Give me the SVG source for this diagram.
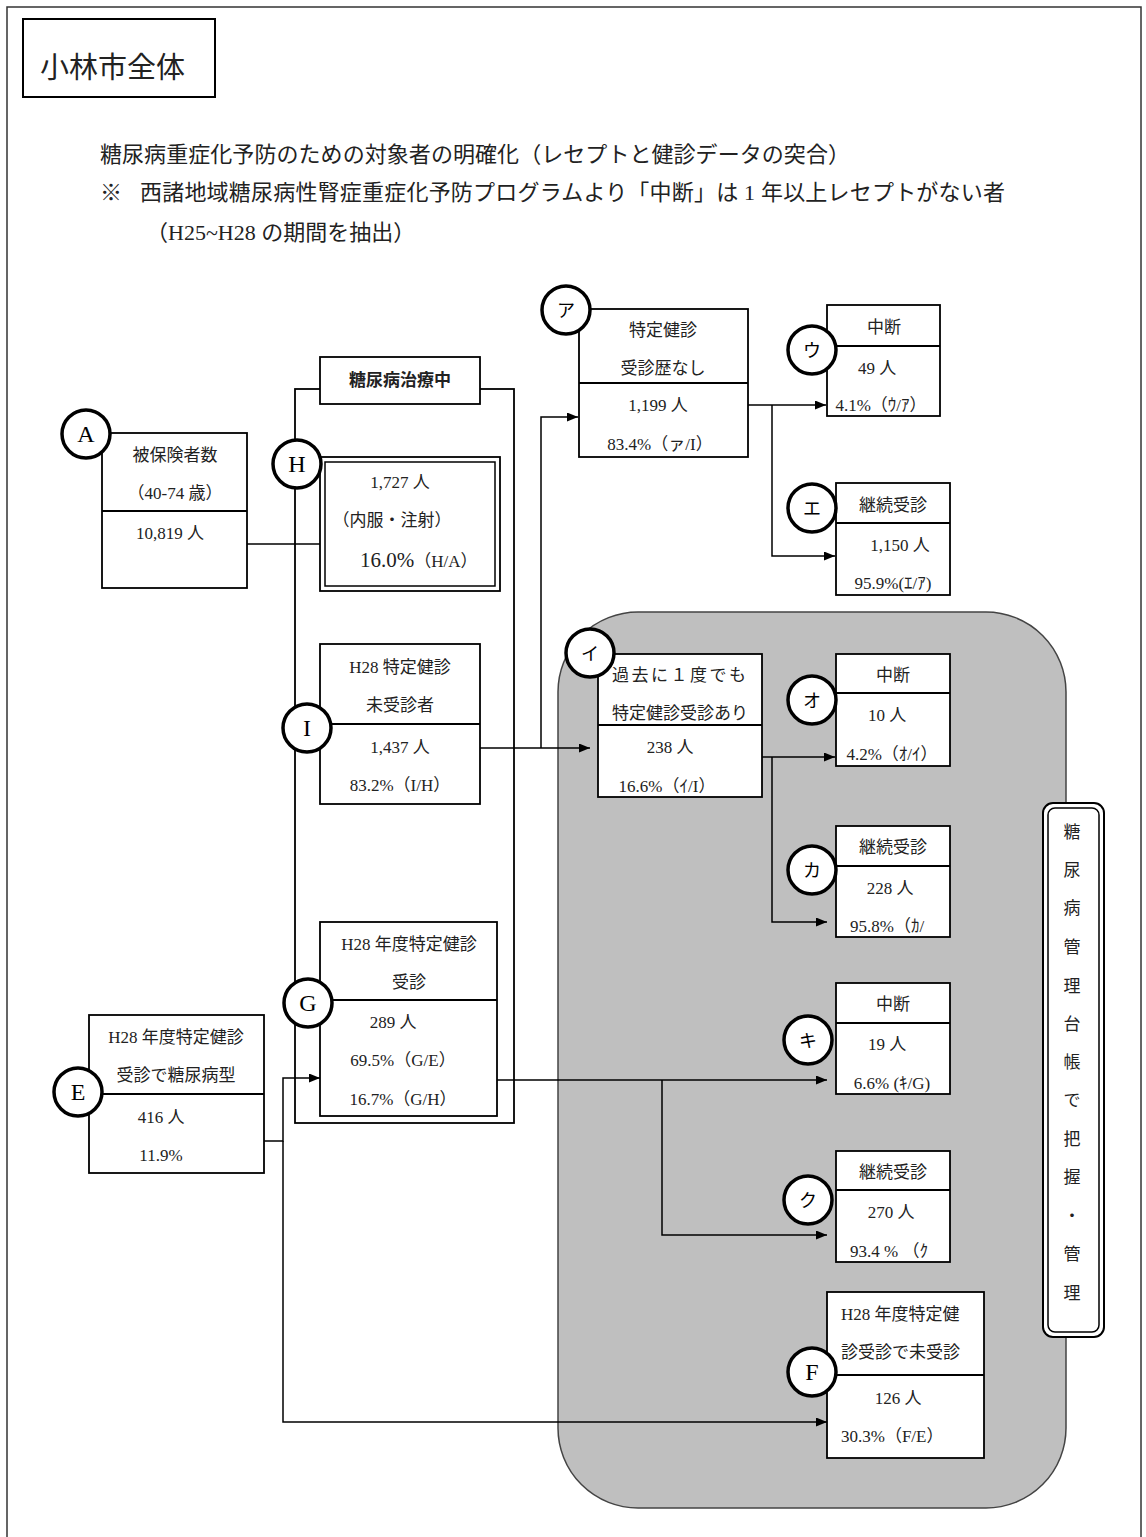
<svg xmlns="http://www.w3.org/2000/svg" width="1146" height="1537" viewBox="0 0 1146 1537">
<defs>
<style>
.box{fill:#fff;stroke:#000;stroke-width:1.8}
.ln{stroke:#000;stroke-width:1.5;fill:none}
.c{fill:#fff;stroke:#000;stroke-width:3.5}
text{font-family:"Liberation Serif","Noto Sans CJK JP",serif;fill:#222}
.t{font-size:17px;text-anchor:middle}
.s{font-size:17px;text-anchor:start}
.cl{font-size:24px;text-anchor:middle;fill:#000}
.ck{font-size:18px;text-anchor:middle;fill:#000}
.h{font-size:22px}
.v{font-size:17px;text-anchor:middle}
</style>
<marker id="arr" markerUnits="userSpaceOnUse" markerWidth="11" markerHeight="9" refX="11" refY="4.5" orient="auto"><path d="M0,0 L11,4.5 L0,9 z" fill="#000"/></marker>
</defs>
<rect x="0" y="0" width="1146" height="1537" fill="#fff"/>
<rect x="7" y="7" width="1134" height="1545" fill="none" stroke="#333" stroke-width="1.5"/>
<g id="title">
<rect x="23" y="19" width="192" height="78" fill="#fff" stroke="#000" stroke-width="2"/>
<text x="40" y="78" style="font-size:29px">小林市全体</text>
</g>
<g id="header">
<text class="h" x="100" y="162" textLength="750" lengthAdjust="spacing">糖尿病重症化予防のための対象者の明確化（レセプトと健診データの突合）</text>
<text class="h" x="100" y="200">※</text>
<text class="h" x="140" y="200" textLength="865" lengthAdjust="spacing">西諸地域糖尿病性腎症重症化予防プログラムより「中断」は 1 年以上レセプトがない者</text>
<text class="h" x="146" y="240">（H25~H28 の期間を抽出）</text>
</g>
<g id="managed-area">
<rect x="558" y="612" width="508" height="896" rx="80" ry="80" fill="#bfbfbf" stroke="#444" stroke-width="1.5"/>
</g>
<g id="treatment-group">
<rect x="295" y="389" width="219" height="734" fill="none" stroke="#000" stroke-width="1.8"/>
<rect class="box" x="320" y="357" width="160" height="47"/>
<text class="t" x="400" y="386" style="font-size:17px;font-weight:bold">糖尿病治療中</text>
</g>
<g id="connectors">
<path class="ln" d="M247,544 H320"/>
<path class="ln" d="M748,405 H826" marker-end="url(#arr)"/>
<path class="ln" d="M772,405 V556 H835" marker-end="url(#arr)"/>
<path class="ln" d="M480,748 H590" marker-end="url(#arr)"/>
<path class="ln" d="M541,748 V417 H578" marker-end="url(#arr)"/>
<path class="ln" d="M762,757 H835" marker-end="url(#arr)"/>
<path class="ln" d="M772,757 V922 H827" marker-end="url(#arr)"/>
<path class="ln" d="M264,1141 H283 V1078 H320" marker-end="url(#arr)"/>
<path class="ln" d="M283,1141 V1422 H827" marker-end="url(#arr)"/>
<path class="ln" d="M497,1080 H827" marker-end="url(#arr)"/>
<path class="ln" d="M662,1080 V1235 H827" marker-end="url(#arr)"/>
</g>
<g id="node-a">
<rect class="box" x="102" y="433" width="145" height="155"/>
<line class="ln" x1="102" y1="511" x2="247" y2="511" style="stroke-width:1.8"/>
<text class="t" x="175" y="461">被保険者数</text>
<text class="t" x="175" y="499">（40-74 歳）</text>
<text class="t" x="170" y="539">10,819 人</text>
<circle class="c" cx="86" cy="434" r="24"/>
<text class="cl" x="86" y="442">A</text>
</g>
<g id="node-h">
<rect class="box" x="320" y="457" width="180" height="134"/>
<rect class="box" x="325" y="462" width="170" height="124" style="stroke-width:1.5"/>
<text class="t" x="400" y="488">1,727 人</text>
<text class="t" x="392" y="526">（内服・注射）</text>
<text x="360" y="567" style="font-size:21px">16.0%<tspan style="font-size:17px">（H/A）</tspan></text>
<circle class="c" cx="297" cy="464" r="24"/>
<text class="cl" x="297" y="472">H</text>
</g>
<g id="node-i">
<rect class="box" x="320" y="644" width="160" height="160"/>
<line class="ln" x1="320" y1="724" x2="480" y2="724" style="stroke-width:1.8"/>
<text class="t" x="400" y="673">H28 特定健診</text>
<text class="t" x="400" y="711">未受診者</text>
<text class="t" x="400" y="753">1,437 人</text>
<text class="t" x="400" y="791">83.2%（I/H）</text>
<circle class="c" cx="307" cy="728" r="24"/>
<text class="cl" x="307" y="736">I</text>
</g>
<g id="node-g">
<rect class="box" x="320" y="922" width="177" height="194"/>
<line class="ln" x1="320" y1="1000" x2="497" y2="1000" style="stroke-width:1.8"/>
<text class="t" x="409" y="950">H28 年度特定健診</text>
<text class="t" x="409" y="988">受診</text>
<text class="t" x="393" y="1028">289 人</text>
<text class="t" x="403" y="1066">69.5%（G/E）</text>
<text class="t" x="403" y="1105">16.7%（G/H）</text>
<circle class="c" cx="308" cy="1003" r="24"/>
<text class="cl" x="308" y="1011">G</text>
</g>
<g id="node-e">
<rect class="box" x="89" y="1015" width="175" height="158"/>
<line class="ln" x1="89" y1="1094" x2="264" y2="1094" style="stroke-width:1.8"/>
<text class="t" x="176" y="1043">H28 年度特定健診</text>
<text class="t" x="176" y="1081">受診で糖尿病型</text>
<text class="t" x="161" y="1123">416 人</text>
<text class="t" x="161" y="1161">11.9%</text>
<circle class="c" cx="78" cy="1092" r="24"/>
<text class="cl" x="78" y="1100">E</text>
</g>
<g id="node-a2">
<rect class="box" x="579" y="309" width="169" height="148"/>
<line class="ln" x1="579" y1="383" x2="748" y2="383" style="stroke-width:1.8"/>
<text class="t" x="663" y="336">特定健診</text>
<text class="t" x="663" y="374">受診歴なし</text>
<text class="t" x="658" y="411">1,199 人</text>
<text class="t" x="660" y="450">83.4%（ァ/I）</text>
<circle class="c" cx="566" cy="310" r="24"/>
<text class="ck" x="566" y="317">ア</text>
</g>
<g id="node-u">
<rect class="box" x="827" y="305" width="113" height="111"/>
<line class="ln" x1="827" y1="346" x2="940" y2="346" style="stroke-width:1.8"/>
<text class="t" x="884" y="333">中断</text>
<text class="t" x="877" y="374">49 人</text>
<text class="t" x="881" y="411">4.1%（ｳ/ｱ）</text>
<circle class="c" cx="812" cy="350" r="24"/>
<text class="ck" x="812" y="357">ウ</text>
</g>
<g id="node-e2">
<rect class="box" x="836" y="483" width="114" height="112"/>
<line class="ln" x1="836" y1="523" x2="950" y2="523" style="stroke-width:1.8"/>
<text class="t" x="893" y="511">継続受診</text>
<text class="t" x="900" y="551">1,150 人</text>
<text class="t" x="893" y="589">95.9%(ｴ/ｱ)</text>
<circle class="c" cx="812" cy="508" r="24"/>
<text class="ck" x="812" y="515">エ</text>
</g>
<g id="node-i2">
<rect class="box" x="598" y="654" width="164" height="143"/>
<line class="ln" x1="598" y1="725" x2="762" y2="725" style="stroke-width:1.8"/>
<text class="s" x="612" y="681" textLength="134" lengthAdjust="spacing">過去に１度でも</text>
<text class="t" x="680" y="719">特定健診受診あり</text>
<text class="t" x="670" y="753">238 人</text>
<text class="t" x="667" y="792">16.6%（ｲ/I）</text>
<circle class="c" cx="590" cy="653" r="24"/>
<text class="ck" x="590" y="660">イ</text>
</g>
<g id="node-o">
<rect class="box" x="836" y="654" width="114" height="112"/>
<line class="ln" x1="836" y1="693" x2="950" y2="693" style="stroke-width:1.8"/>
<text class="t" x="893" y="681">中断</text>
<text class="t" x="887" y="721">10 人</text>
<text class="t" x="892" y="760">4.2%（ｵ/ｲ）</text>
<circle class="c" cx="812" cy="700" r="24"/>
<text class="ck" x="812" y="707">オ</text>
</g>
<g id="node-ka">
<rect class="box" x="836" y="826" width="114" height="111"/>
<line class="ln" x1="836" y1="866" x2="950" y2="866" style="stroke-width:1.8"/>
<text class="t" x="893" y="853">継続受診</text>
<text class="t" x="890" y="894">228 人</text>
<text class="s" x="850" y="932">95.8%（ｶ/</text>
<circle class="c" cx="812" cy="870" r="24"/>
<text class="ck" x="812" y="877">カ</text>
</g>
<g id="node-ki">
<rect class="box" x="836" y="983" width="114" height="111"/>
<line class="ln" x1="836" y1="1023" x2="950" y2="1023" style="stroke-width:1.8"/>
<text class="t" x="893" y="1010">中断</text>
<text class="t" x="887" y="1050">19 人</text>
<text class="t" x="892" y="1089">6.6% (ｷ/G)</text>
<circle class="c" cx="808" cy="1040" r="24"/>
<text class="ck" x="808" y="1047">キ</text>
</g>
<g id="node-ku">
<rect class="box" x="836" y="1151" width="114" height="111"/>
<line class="ln" x1="836" y1="1190" x2="950" y2="1190" style="stroke-width:1.8"/>
<text class="t" x="893" y="1178">継続受診</text>
<text class="t" x="891" y="1218">270 人</text>
<text class="s" x="850" y="1257">93.4 % （ｸ</text>
<circle class="c" cx="808" cy="1200" r="24"/>
<text class="ck" x="808" y="1207">ク</text>
</g>
<g id="node-f">
<rect class="box" x="827" y="1292" width="157" height="166"/>
<line class="ln" x1="827" y1="1375" x2="984" y2="1375" style="stroke-width:1.8"/>
<text class="s" x="841" y="1320">H28 年度特定健</text>
<text class="s" x="841" y="1358">診受診で未受診</text>
<text class="t" x="898" y="1404">126 人</text>
<text class="s" x="841" y="1442">30.3%（F/E）</text>
<circle class="c" cx="812" cy="1372" r="24"/>
<text class="cl" x="812" y="1380">F</text>
</g>
<g id="side-label">
<rect x="1043" y="803" width="61" height="534" rx="10" ry="10" fill="#fff" stroke="#000" stroke-width="2"/>
<rect x="1048" y="808" width="51" height="524" rx="7" ry="7" fill="none" stroke="#000" stroke-width="1.5"/>
<text class="v" x="1072" y="838">糖</text>
<text class="v" x="1072" y="876">尿</text>
<text class="v" x="1072" y="914">病</text>
<text class="v" x="1072" y="953">管</text>
<text class="v" x="1072" y="992">理</text>
<text class="v" x="1072" y="1030">台</text>
<text class="v" x="1072" y="1068">帳</text>
<text class="v" x="1072" y="1106">で</text>
<text class="v" x="1072" y="1145">把</text>
<text class="v" x="1072" y="1183">握</text>
<text class="v" x="1072" y="1222">・</text>
<text class="v" x="1072" y="1260">管</text>
<text class="v" x="1072" y="1299">理</text>
</g>
</svg>
